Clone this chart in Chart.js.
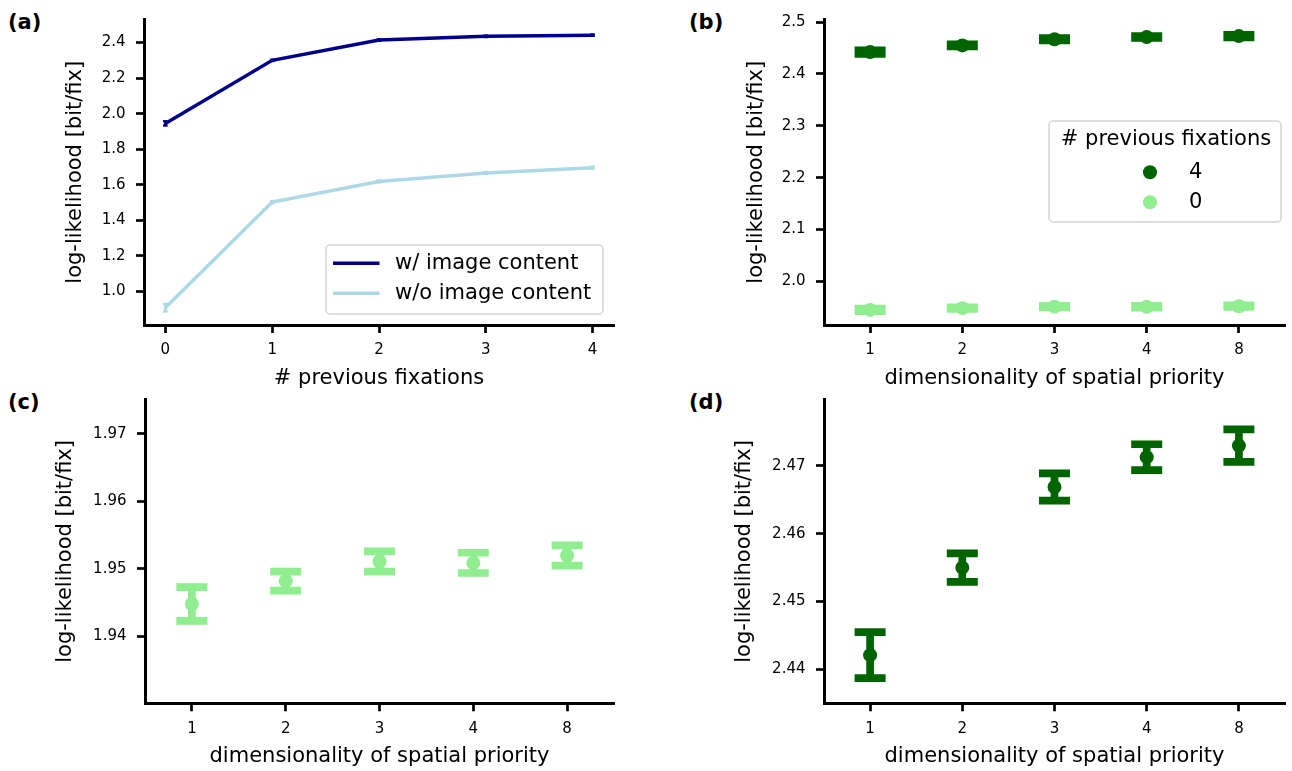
<!DOCTYPE html>
<html>
<head>
<meta charset="utf-8">
<script src="https://cdn.jsdelivr.net/npm/chart.js@4.4.1/dist/chart.umd.min.js"></script>
<style>
  body { margin: 0; background: #fff; width: 1292px; height: 771px; position: relative; overflow: hidden; }
  canvas { position: absolute; }
  .tag { position: absolute; font: bold 21px 'DejaVu Sans'; line-height: 21px; color: #000; }
</style>
</head>
<body>
<div class="tag" style="left:8px;top:12px">(a)</div>
<div class="tag" style="left:689px;top:12px">(b)</div>
<div class="tag" style="left:8px;top:391.5px">(c)</div>
<div class="tag" style="left:689px;top:391.5px">(d)</div>
<canvas id="pa" width="640" height="395" style="left:0;top:0"></canvas>
<canvas id="pb" width="642" height="395" style="left:650px;top:0"></canvas>
<canvas id="pc" width="640" height="391" style="left:0;top:380px"></canvas>
<canvas id="pd" width="642" height="391" style="left:650px;top:380px"></canvas>
<script>
// panel (a): log-likelihood vs number of previous fixations
const fixations = [0, 1, 2, 3, 4];
const withImage = [1.945, 2.300, 2.415, 2.435, 2.442];
const withImageErr = [0.012, 0.004, 0.004, 0.004, 0.004];
const withoutImage = [0.907, 1.502, 1.618, 1.666, 1.696];
const withoutImageErr = [0.021, 0.006, 0.005, 0.005, 0.005];
const aTicksY = [1.0, 1.2, 1.4, 1.6, 1.8, 2.0, 2.2, 2.4];

// panels (b)-(d): dimensionality of spatial priority
const dims = ['1', '2', '3', '4', '8'];
const fix4 = [2.4421, 2.4550, 2.4669, 2.4713, 2.4730];
const fix4Err = [0.0034, 0.0021, 0.0020, 0.0019, 0.0024];
const fix0 = [1.9448, 1.9482, 1.9511, 1.9509, 1.9520];
const fix0Err = [0.0025, 0.0014, 0.0015, 0.0015, 0.0015];
const bTicksY = [2.0, 2.1, 2.2, 2.3, 2.4, 2.5];
const cTicksY = [1.94, 1.95, 1.96, 1.97];
const dTicksY = [2.44, 2.45, 2.46, 2.47];

const NAVY = '#00008b', LIGHTBLUE = '#add8e6', DARKGREEN = '#006400', LIGHTGREEN = '#90ee90';

Chart.defaults.font.family = "'DejaVu Sans', sans-serif";
Chart.defaults.font.size = 15;
Chart.defaults.color = '#000';

// error bars with caps, drawn through the y scale
const errorBars = {
  id: 'errorBars',
  beforeDatasetsDraw(chart, args, opts) {
    const ctx = chart.ctx, ys = chart.scales.y;
    ctx.save();
    chart.data.datasets.forEach((ds, di) => {
      if (!ds.errors) return;
      const meta = chart.getDatasetMeta(di);
      ctx.strokeStyle = ds.borderColor;
      ctx.lineWidth = opts.lineWidth;
      meta.data.forEach((pt, i) => {
        const d = ds.data[i];
        const v = typeof d === 'object' ? d.y : d;
        const hi = ys.getPixelForValue(v + ds.errors[i]);
        const lo = ys.getPixelForValue(v - ds.errors[i]);
        const w = opts.capWidth / 2;
        ctx.beginPath();
        ctx.moveTo(pt.x, lo); ctx.lineTo(pt.x, hi);
        ctx.moveTo(pt.x - w, hi); ctx.lineTo(pt.x + w, hi);
        ctx.moveTo(pt.x - w, lo); ctx.lineTo(pt.x + w, lo);
        ctx.stroke();
      });
    });
    ctx.restore();
  }
};

// matplotlib-like framed legend inside the axes
const boxLegend = {
  id: 'boxLegend',
  afterDraw(chart, args, opts) {
    if (!opts || !opts.frame) return;
    const ctx = chart.ctx;
    const [l, t, r, b] = opts.frame;
    ctx.save();
    ctx.beginPath();
    ctx.roundRect(l, t, r - l, b - t, 4);
    ctx.fillStyle = 'rgba(255,255,255,0.8)';
    ctx.fill();
    ctx.strokeStyle = '#d4d4d4';
    ctx.lineWidth = 1.5;
    ctx.stroke();
    ctx.font = "21px 'DejaVu Sans'";
    ctx.textBaseline = 'middle';
    if (opts.title) {
      ctx.fillStyle = '#000';
      ctx.textAlign = 'center';
      ctx.fillText(opts.title, opts.titleX, opts.titleY);
    }
    ctx.textAlign = 'left';
    chart.data.datasets.forEach((ds, i) => {
      const y = opts.rowY + i * opts.rowGap;
      if (opts.kind === 'line') {
        ctx.strokeStyle = ds.borderColor;
        ctx.lineWidth = ds.borderWidth;
        ctx.beginPath();
        ctx.moveTo(opts.sampleX[0], y);
        ctx.lineTo(opts.sampleX[1], y);
        ctx.stroke();
      } else {
        ctx.fillStyle = ds.backgroundColor;
        ctx.beginPath();
        ctx.arc(opts.sampleX[0], y, ds.pointRadius, 0, Math.PI * 2);
        ctx.fill();
      }
      ctx.fillStyle = '#000';
      ctx.fillText(ds.label, opts.textX, y);
    });
    ctx.restore();
  }
};

function axisBase() {
  return {
    border: { display: true, color: '#000', width: 3 },
    grid: { display: true, drawOnChartArea: false, drawTicks: true, tickLength: 8, tickWidth: 2.7, tickColor: '#000', offset: false }
  };
}

function panel(id, cfg) {
  const x = Object.assign(axisBase(), cfg.x, {
    afterFit: s => { s.height = cfg.xHeight; },
    title: { display: true, text: cfg.xTitle, font: { size: 21 }, padding: { top: 0, bottom: cfg.xTitlePad } }
  });
  x.ticks = Object.assign({ padding: 8.5, maxRotation: 0, autoSkip: false }, cfg.xTicks || {});
  const y = Object.assign(axisBase(), {
    type: 'linear',
    min: cfg.yRange[0],
    max: cfg.yRange[1],
    afterBuildTicks: s => { s.ticks = cfg.yTicks.map(v => ({ value: v })); },
    afterFit: s => { s.width = cfg.yWidth; },
    ticks: { padding: 10.5, callback: v => v.toFixed(cfg.yDigits) },
    title: { display: true, text: 'log-likelihood [bit/fix]', font: { size: 21 }, padding: { top: cfg.yTitlePad, bottom: 0 } }
  });
  return new Chart(document.getElementById(id), {
    type: 'line',
    data: cfg.data,
    options: {
      responsive: false,
      animation: false,
      layout: { padding: { left: 0, top: cfg.top, right: cfg.right, bottom: 0 } },
      plugins: {
        legend: { display: false },
        tooltip: { enabled: false },
        errorBars: cfg.err,
        boxLegend: cfg.legend || {}
      },
      scales: { x: x, y: y }
    },
    plugins: [errorBars, boxLegend]
  });
}

function dotSet(label, values, errors, color) {
  return {
    label: label, data: values, errors: errors,
    showLine: false, borderColor: color, backgroundColor: color,
    pointRadius: 7, pointBorderWidth: 0, pointBackgroundColor: color
  };
}

const dimAxis = { type: 'category', offset: true };

panel('pa', {
  top: 17, right: 26, yWidth: 144, xHeight: 70, xTitlePad: 3.7, yTitlePad: 63.3,
  xTitle: '# previous fixations',
  x: {
    type: 'linear', min: -0.2, max: 4.2,
    afterBuildTicks: s => { s.ticks = fixations.map(v => ({ value: v })); }
  },
  xTicks: { callback: v => String(v) },
  yRange: [0.81, 2.53], yTicks: aTicksY, yDigits: 1,
  err: { capWidth: 4.5, lineWidth: 2.5 },
  data: {
    datasets: [
      { label: 'w/ image content', data: fixations.map((f, i) => ({ x: f, y: withImage[i] })), errors: withImageErr,
        borderColor: NAVY, backgroundColor: NAVY, borderWidth: 3.5, pointRadius: 0, tension: 0 },
      { label: 'w/o image content', data: fixations.map((f, i) => ({ x: f, y: withoutImage[i] })), errors: withoutImageErr,
        borderColor: LIGHTBLUE, backgroundColor: LIGHTBLUE, borderWidth: 3.5, pointRadius: 0, tension: 0 }
    ]
  },
  legend: { frame: [326, 245, 603, 314], kind: 'line', sampleX: [333, 379.5], textX: 395, rowY: 263.3, rowGap: 30 }
});

panel('pb', {
  top: 18, right: 1, yWidth: 174, xHeight: 70, xTitlePad: 3.7, yTitlePad: 93.9,
  xTitle: 'dimensionality of spatial priority',
  x: dimAxis,
  yRange: [1.9157, 2.505], yTicks: bTicksY, yDigits: 1,
  err: { capWidth: 31, lineWidth: 7.7 },
  data: { labels: dims, datasets: [dotSet('4', fix4, fix4Err, DARKGREEN), dotSet('0', fix0, fix0Err, LIGHTGREEN)] },
  legend: { frame: [399, 121, 631, 222], title: '# previous fixations', titleX: 516, titleY: 140,
    kind: 'dot', sampleX: [500], textX: 539, rowY: 172.3, rowGap: 30 }
});

panel('pc', {
  top: 15.7, right: 26, yWidth: 145, xHeight: 67.7, xTitlePad: 1.4, yTitlePad: 53.1,
  xTitle: 'dimensionality of spatial priority',
  x: dimAxis,
  yRange: [1.9301, 1.9751], yTicks: cTicksY, yDigits: 2,
  err: { capWidth: 31, lineWidth: 7.7 },
  data: { labels: dims, datasets: [dotSet('0', fix0, fix0Err, LIGHTGREEN)] }
});

panel('pd', {
  top: 15.7, right: 1, yWidth: 174, xHeight: 67.7, xTitlePad: 1.4, yTitlePad: 82.4,
  xTitle: 'dimensionality of spatial priority',
  x: dimAxis,
  yRange: [2.4350, 2.4798], yTicks: dTicksY, yDigits: 2,
  err: { capWidth: 31, lineWidth: 7.7 },
  data: { labels: dims, datasets: [dotSet('4', fix4, fix4Err, DARKGREEN)] }
});
</script>
</body>
</html>
